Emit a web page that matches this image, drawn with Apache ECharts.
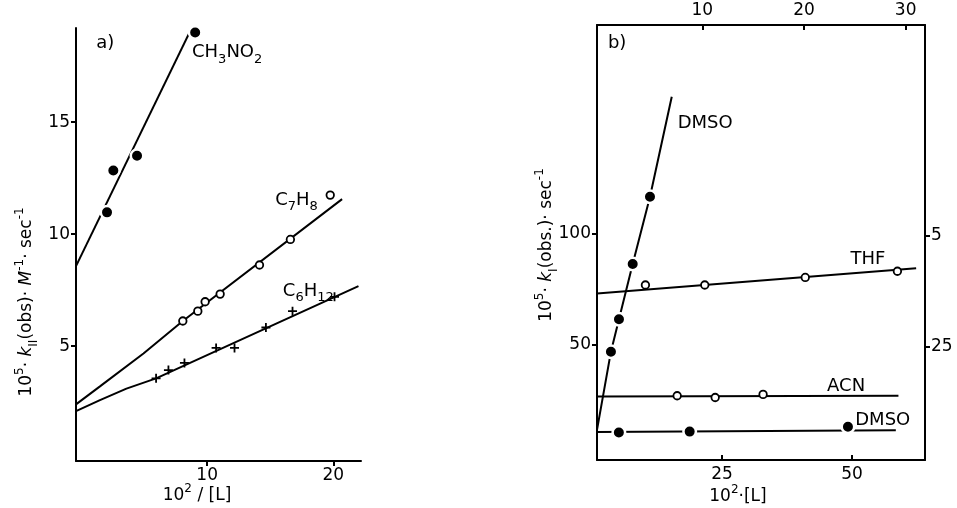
<!DOCTYPE html>
<html>
<head>
<meta charset="utf-8">
<script src="https://cdn.jsdelivr.net/npm/echarts/dist/echarts.min.js"></script>
<style>
html,body{margin:0;padding:0;background:#fff;}
#main{width:957px;height:508px;}
</style>
</head>
<body>
<div id="main"></div>
<script>
// a) k_II gegen 1/[L]
var ch3no2X = [2.06, 2.56, 4.44, 9.05];
var ch3no2Y = [10.97, 12.84, 13.5, 19.0];
var ch3no2LineX = [-0.4, 8.86];
var ch3no2LineY = [8.57, 19.3];

var c7h8X = [8.07, 9.26, 9.84, 11.03, 14.15, 16.6, 19.76];
var c7h8Y = [6.12, 6.56, 6.98, 7.32, 8.62, 9.76, 11.74];
var c7h8LineX = [-0.4, 1.5, 4.95, 8.07, 20.7];
var c7h8LineY = [2.4, 3.2, 4.67, 6.12, 11.56];

var c6h12X = [5.95, 6.93, 8.2, 10.71, 12.17, 14.66, 16.77, 20.1];
var c6h12Y = [3.56, 3.93, 4.25, 4.92, 4.92, 5.83, 6.56, 7.2];
var c6h12LineX = [-0.4, 1.5, 3.6, 5.95, 22];
var c6h12LineY = [2.1, 2.59, 3.1, 3.56, 7.68];

// b) k_I gegen [L]
var dmsoTopX = [1.02, 1.81, 3.16, 4.86];
var dmsoTopY = [47.0, 61.5, 86.3, 116.4];
var dmsoTopLineX = [-0.35, 1.02, 1.81, 3.16, 4.86, 7.0];
var dmsoTopLineY = [12, 47, 61.5, 86.3, 116.4, 161.2];

var thfX = [10.3, 21.7, 41.0, 58.7];
var thfY = [3.89, 3.89, 4.06, 4.2];
var thfLineX = [1, 62.3];
var thfLineY = [3.70, 4.27];

var acnX = [16.4, 23.7, 32.9];
var acnY = [1.39, 1.35, 1.42];
var acnLineX = [1, 58.9];
var acnLineY = [1.37, 1.39];

var dmsoX = [5.2, 18.8, 49.2];
var dmsoY = [0.56, 0.58, 0.69];
var dmsoLineX = [1, 58.4];
var dmsoLineY = [0.57, 0.61];

// tick labels
var aXTicks = [10, 20];
var aYTicks = [5, 10, 15];
var bBottomTicks = [25, 50];
var bTopTicks = [10, 20, 30];
var bLeftTicks = [50, 100];
var bRightTicks = [2.5, 5];
var bRightText = {'2.5': '25', '5': '5'};

var fontName = 'DejaVu Sans';

function zip(xs, ys){
	var out = [];
	for(var i=0;i<xs.length;i++){
		out.push([xs[i], ys[i]]);
	}
	return out;
}

var rich = {
	n: {fontSize: 17, fontFamily: fontName, color: '#000', lineHeight: 26},
	i: {fontSize: 17, fontFamily: fontName, color: '#000', fontStyle: 'italic', lineHeight: 26},
	sup: {fontSize: 12, fontFamily: fontName, color: '#000', verticalAlign: 'top'},
	sub: {fontSize: 12, fontFamily: fontName, color: '#000', verticalAlign: 'bottom'}
};
var noteRich = {
	n: {fontSize: 18, fontFamily: fontName, color: '#000', lineHeight: 26},
	sub: {fontSize: 13, fontFamily: fontName, color: '#000', verticalAlign: 'bottom'}
};

function makeAxis(grid, pos, min, max, ticks, inside){
	return {
		type: 'value', gridIndex: grid, position: pos, min: min, max: max,
		splitLine: {show: false},
		axisLine: {show: true, onZero: false, lineStyle: {color: '#000', width: 2}},
		axisTick: {show: true, inside: inside, length: 5, customValues: ticks, lineStyle: {color: '#000', width: 2}},
		axisLabel: {customValues: ticks, color: '#000', fontFamily: fontName, fontSize: 17, margin: 6}
	};
}

function lineSeries(xi, yi, xs, ys){
	return {
		type: 'line', xAxisIndex: xi, yAxisIndex: yi, data: zip(xs, ys),
		showSymbol: false, silent: true, z: 2,
		lineStyle: {color: '#000', width: 2}
	};
}
function dotSeries(xi, yi, xs, ys, kind){
	var s = {
		type: 'scatter', xAxisIndex: xi, yAxisIndex: yi, data: zip(xs, ys), silent: true, z: 5
	};
	if(kind=='filled'){
		s.symbol = 'circle';
		s.symbolSize = 12.5;
		s.itemStyle = {color: '#000', borderColor: '#fff', borderWidth: 2.5, opacity: 1};
	}else if(kind=='open'){
		s.symbol = 'circle';
		s.symbolSize = 7.5;
		s.itemStyle = {color: '#fff', borderColor: '#000', borderWidth: 1.8, opacity: 1};
	}else{
		s.symbol = 'path://M4,0h2v4h4v2h-4v4h-2v-4h-4v-2h4z';
		s.symbolSize = 9;
		s.itemStyle = {color: '#000', opacity: 1};
	}
	return s;
}
function noteSeries(xi, yi, notes){
	return {
		type: 'scatter', xAxisIndex: xi, yAxisIndex: yi, symbolSize: 0, silent: true, z: 6,
		itemStyle: {opacity: 1},
		data: notes.map(function(n){
			return {value: [n[0], n[1]], label: {show: true, position: 'right', distance: 0, color: '#000', opacity: 1, formatter: n[2], rich: noteRich}};
		})
	};
}

var dom = document.getElementById('main');
var myChart = echarts.init(dom);

var option = {
	animation: false,
	backgroundColor: '#fff',
	grid: [
		{left: 76, top: 28, width: 285, height: 433},
		{left: 597, top: 25, width: 328, height: 435}
	],
	xAxis: [
		makeAxis(0, 'bottom', -0.4, 22.2, aXTicks, false),
		makeAxis(1, 'bottom', 1, 64, bBottomTicks, true),
		makeAxis(1, 'top', -0.35, 31.9, bTopTicks, true)
	],
	yAxis: [
		makeAxis(0, 'left', -0.13, 19.2, aYTicks, false),
		makeAxis(1, 'left', -1.5, 193.3, bLeftTicks, false),
		makeAxis(1, 'right', -0.061, 9.76, bRightTicks, false)
	],
	series: [
		lineSeries(0, 0, ch3no2LineX, ch3no2LineY),
		lineSeries(0, 0, c7h8LineX, c7h8LineY),
		lineSeries(0, 0, c6h12LineX, c6h12LineY),
		dotSeries(0, 0, ch3no2X, ch3no2Y, 'filled'),
		dotSeries(0, 0, c7h8X, c7h8Y, 'open'),
		dotSeries(0, 0, c6h12X, c6h12Y, 'plus'),
		noteSeries(0, 0, [
			[1.2, 18.5, '{n|a)}'],
			[8.8, 18.1, '{n|CH}{sub|3}{n|NO}{sub|2}'],
			[15.4, 11.5, '{n|C}{sub|7}{n|H}{sub|8}'],
			[16.0, 7.45, '{n|C}{sub|6}{n|H}{sub|12}']
		]),

		lineSeries(2, 1, dmsoTopLineX, dmsoTopLineY),
		lineSeries(1, 2, thfLineX, thfLineY),
		lineSeries(1, 2, acnLineX, acnLineY),
		lineSeries(1, 2, dmsoLineX, dmsoLineY),
		dotSeries(2, 1, dmsoTopX, dmsoTopY, 'filled'),
		dotSeries(1, 2, thfX, thfY, 'open'),
		dotSeries(1, 2, acnX, acnY, 'open'),
		dotSeries(1, 2, dmsoX, dmsoY, 'filled'),
		noteSeries(1, 2, [
			[3.1, 9.35, '{n|b)}'],
			[16.5, 7.54, '{n|DMSO}'],
			[49.7, 4.48, '{n|THF}'],
			[45.2, 1.61, '{n|ACN}'],
			[50.6, 0.84, '{n|DMSO}']
		])
	],
	graphic: [
		{type: 'text', x: 27, y: 302, rotation: Math.PI/2,
			style: {text: '{n|10}{sup|5}{n|· }{i|k}{sub|II}{n|(obs)· }{i|M}{sup|-1}{n|· sec}{sup|-1}', rich: rich,
				textAlign: 'center', textVerticalAlign: 'middle', align: 'center', verticalAlign: 'middle'}},
		{type: 'text', x: 547, y: 245, rotation: Math.PI/2,
			style: {text: '{n|10}{sup|5}{n|· }{i|k}{sub|I}{n|(obs.)· sec}{sup|-1}', rich: rich,
				textAlign: 'center', textVerticalAlign: 'middle', align: 'center', verticalAlign: 'middle'}},
		{type: 'text', x: 197, y: 496,
			style: {text: '{n|10}{sup|2}{n| / [L]}', rich: rich,
				textAlign: 'center', textVerticalAlign: 'middle', align: 'center', verticalAlign: 'middle'}},
		{type: 'text', x: 738, y: 497,
			style: {text: '{n|10}{sup|2}{n|·[L]}', rich: rich,
				textAlign: 'center', textVerticalAlign: 'middle', align: 'center', verticalAlign: 'middle'}}
	]
};

option.yAxis[2].axisLabel.formatter = function(v){
	return bRightText[String(v)] || String(v);
};

if (option && typeof option === "object") {
	myChart.setOption(option, true);
}
</script>
</body>
</html>
